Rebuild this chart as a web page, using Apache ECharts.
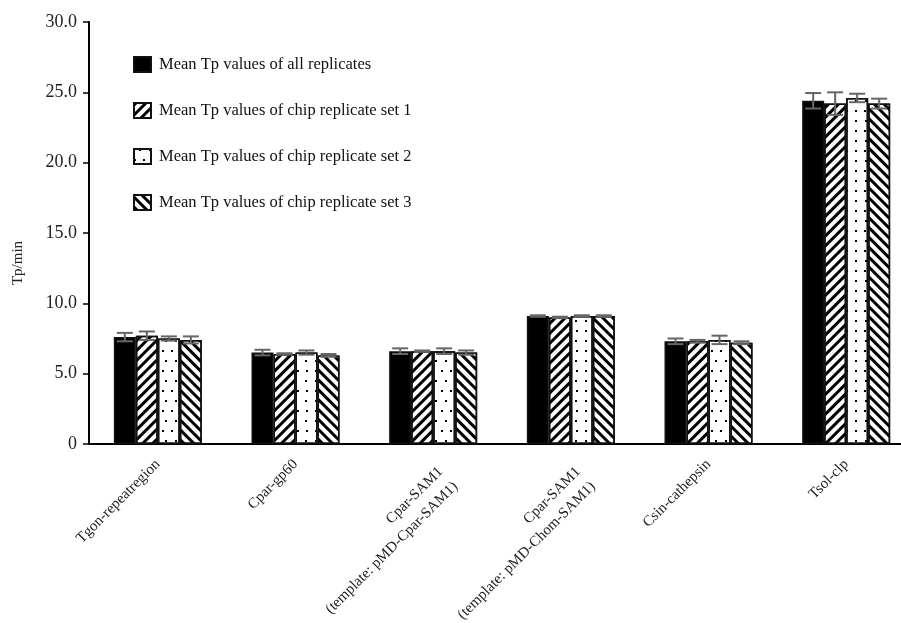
<!DOCTYPE html>
<html>
<head>
<meta charset="utf-8">
<script src="https://cdn.jsdelivr.net/npm/echarts@6/dist/echarts.min.js"></script>
<style>html,body{margin:0;padding:0;background:#fff}#c{width:901px;height:623px}</style>
</head>
<body>
<div id="c"></div>
<script>
var categories = ['Tgon-repeatregion', 'Cpar-gp60', 'Cpar-SAM1\n(template: pMD-Cpar-SAM1)', 'Cpar-SAM1\n(template: pMD-Chom-SAM1)', 'Csin-cathepsin', 'Tsol-clp'];
var seriesNames = ['Mean Tp values of all replicates', 'Mean Tp values of chip replicate set 1', 'Mean Tp values of chip replicate set 2', 'Mean Tp values of chip replicate set 3'];
var meanAll = [7.6, 6.5, 6.6, 9.1, 7.3, 24.4];
var meanSet1 = [7.7, 6.4, 6.6, 9.0, 7.3, 24.2];
var meanSet2 = [7.5, 6.5, 6.6, 9.1, 7.4, 24.6];
var meanSet3 = [7.4, 6.3, 6.5, 9.1, 7.2, 24.2];
var errAll = [0.3, 0.2, 0.2, 0.05, 0.2, 0.55];
var errSet1 = [0.3, 0.05, 0.05, 0.05, 0.1, 0.8];
var errSet2 = [0.15, 0.15, 0.2, 0.05, 0.3, 0.3];
var errSet3 = [0.25, 0.1, 0.15, 0.05, 0.1, 0.35];
var yTicks = [0, 5, 10, 15, 20, 25, 30];

var values = [meanAll, meanSet1, meanSet2, meanSet3];
var errors = [errAll, errSet1, errSet2, errSet3];

var BAR_W = 22;
var FONT = "'Liberation Serif', 'Times New Roman', serif";

var decals = [
  null,
  {symbol: 'rect', color: '#000', backgroundColor: null, dashArrayX: [1, 0], dashArrayY: [3, 3.4], rotation: -Math.PI / 4},
  {symbol: 'rect', color: '#000', backgroundColor: null, symbolSize: 1, dashArrayX: [[1.6, 7], [0, 4.3, 1.6, 2.7]], dashArrayY: [1.6, 8]},
  {symbol: 'rect', color: '#000', backgroundColor: null, dashArrayX: [1, 0], dashArrayY: [3, 3.4], rotation: Math.PI / 4}
];

var series = [];
seriesNames.forEach(function (name, i) {
  var item = {color: i === 0 ? '#000' : '#fff', borderColor: '#111', borderWidth: 1.5};
  if (decals[i]) item.decal = decals[i];
  series.push({
    name: name, type: 'bar', data: values[i], barWidth: BAR_W, barGap: '0%',
    itemStyle: item, z: 2
  });
});

seriesNames.forEach(function (name, i) {
  var errData = values[i].map(function (v, k) { return [k, v - errors[i][k], v + errors[i][k]]; });
  series.push({
    type: 'custom', name: 'err' + i, z: 5, silent: true,
    data: errData,
    renderItem: function (params, api) {
      var k = api.value(0);
      var lo = api.coord([k, api.value(1)]);
      var hi = api.coord([k, api.value(2)]);
      var x = lo[0] + (i - 1.5) * BAR_W;
      var cap = 8;
      var st = {stroke: '#666', lineWidth: 2};
      return {
        type: 'group',
        children: [
          {type: 'line', shape: {x1: x, y1: lo[1], x2: x, y2: hi[1]}, style: st},
          {type: 'line', shape: {x1: x - cap, y1: lo[1], x2: x + cap, y2: lo[1]}, style: st},
          {type: 'line', shape: {x1: x - cap, y1: hi[1], x2: x + cap, y2: hi[1]}, style: st}
        ]
      };
    }
  });
});

var chart = echarts.init(document.getElementById('c'), null, {renderer: 'canvas'});
chart.setOption({
  backgroundColor: '#fff',
  animation: false,
  legend: {
    data: seriesNames,
    orient: 'vertical',
    left: 128, top: 51,
    itemWidth: 17, itemHeight: 15, itemGap: 29,
    icon: 'rect',
    textStyle: {fontFamily: FONT, fontSize: 16.5, color: '#111', padding: [0, 0, 0, 3]}
  },
  grid: {left: 89, top: 22, width: 826, bottom: 179, containLabel: false, outerBoundsMode: 'none'},
  xAxis: {
    type: 'category', data: categories,
    axisLine: {lineStyle: {color: '#000', width: 2}},
    axisTick: {show: false},
    axisLabel: {
      rotate: 45, interval: 0, margin: 18, fontFamily: FONT, fontSize: 15, color: '#222', lineHeight: 21,
      formatter: function (v) { return v.indexOf('\n') >= 0 ? '\n\n' + v : v; }
    }
  },
  yAxis: {
    type: 'value', min: 0, max: 30, interval: 5,
    name: 'Tp/min', nameLocation: 'middle', nameGap: 63,
    nameTextStyle: {fontFamily: FONT, fontSize: 15, color: '#222', padding: [0, 60, 0, 0]},
    axisLine: {show: true, lineStyle: {color: '#000', width: 2}},
    axisTick: {show: true, length: 6, lineStyle: {color: '#000', width: 1.5}},
    splitLine: {show: false},
    axisLabel: {
      margin: 12, fontFamily: FONT, fontSize: 18, color: '#222',
      formatter: function (v) { return yTicks.indexOf(v) >= 0 ? (v === 0 ? '0' : v.toFixed(1)) : ''; }
    }
  },
  series: series
});
</script>
</body>
</html>
